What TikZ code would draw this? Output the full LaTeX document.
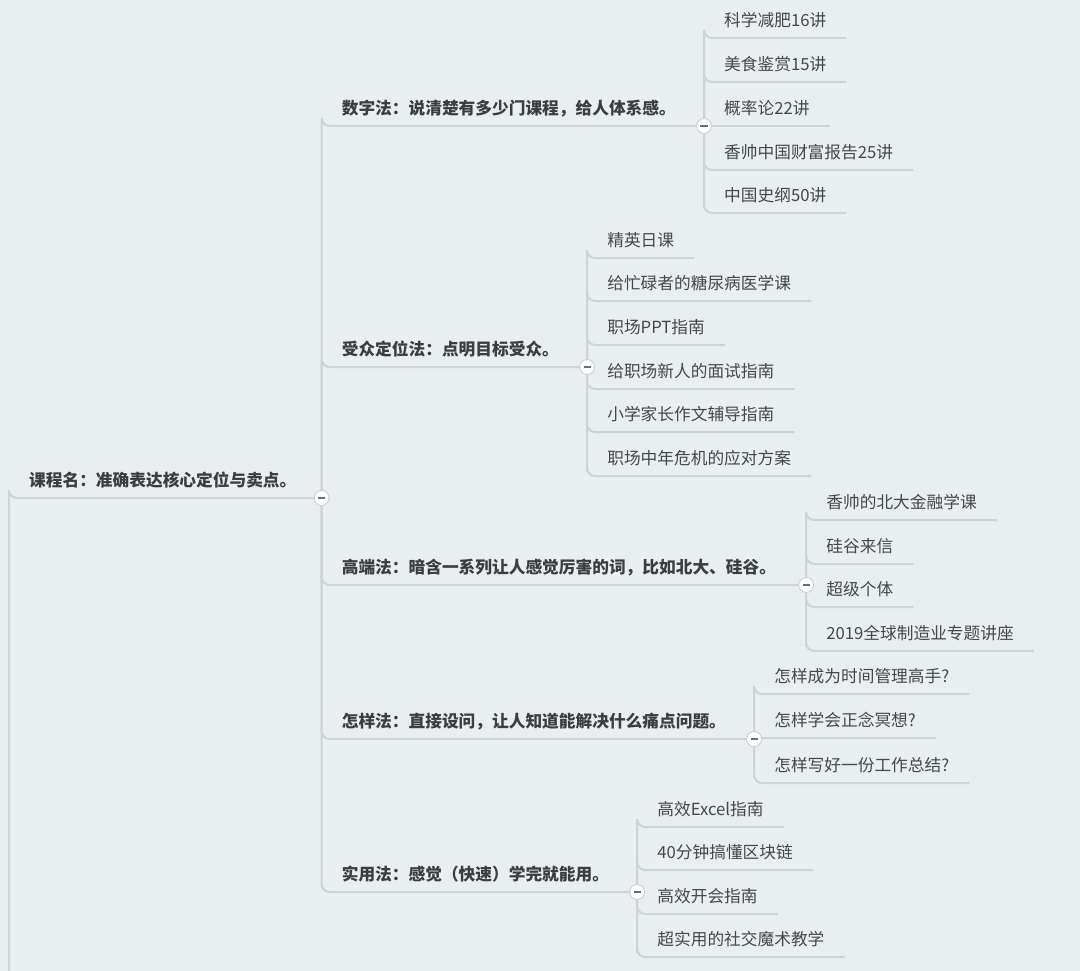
\documentclass[tikz,border=0pt]{standalone}
\usepackage{fontspec}
\newfontfamily\cjk{Noto Sans CJK SC}
\usepackage{xcolor}
\usepackage{tikz}
\usetikzlibrary{calc}

\definecolor{bgcol}{HTML}{E9EEF1}
\definecolor{linecol}{HTML}{CED3D7}
\definecolor{txtcol}{HTML}{45484B}
\definecolor{boldcol}{HTML}{3B3E41}

\tikzset{
    leaf/.style={anchor=south west, inner xsep=20pt, inner ysep=7pt, text height=13pt, text depth=4pt,
        font=\cjk\fontsize{16.7}{20}\selectfont, text=txtcol},
    main/.style={leaf, font=\cjk\bfseries\fontsize{16.7}{20}\selectfont, text=boldcol},
    branch/.style={draw=linecol, line width=2pt, rounded corners=8pt},
    fold/.style={circle, fill=white, draw=linecol, line width=1pt, minimum size=15pt, inner sep=0pt,
        path picture={\draw[line width=1.8pt, txtcol!80] ([xshift=-3.6pt]path picture bounding box.center) -- ([xshift=3.6pt]path picture bounding box.center);}}
}

\begin{document}
\begin{tikzpicture}[x=1pt, y=-1pt]
        %LATAR
        \fill[bgcol] (0,0) rectangle (1080,971);
        \useasboundingbox (0,0) rectangle (1080,971);

        %AKAR
        \coordinate (base) at (9,990);
        \node[main] (root) at (9,498) {课程名：准确表达核心定位与卖点。};
        \coordinate (d0) at ([xshift=5pt]root.south east);
        \draw[branch] (base) |- (root.south west) -- (d0);

        %CABANG UTAMA
        \node[main] (n1) at (d0 |- 0,126) {数字法：说清楚有多少门课程，给人体系感。};
        \node[main] (n2) at (d0 |- 0,367) {受众定位法：点明目标受众。};
        \node[main] (n3) at (d0 |- 0,585) {高端法：暗含一系列让人感觉厉害的词，比如北大、硅谷。};
        \node[main] (n4) at (d0 |- 0,739) {怎样法：直接设问，让人知道能解决什么痛点问题。};
        \node[main] (n5) at (d0 |- 0,892) {实用法：感觉（快速）学完就能用。};
        \coordinate (d1) at ([xshift=8pt]n1.south east);
        \coordinate (d2) at ([xshift=8pt]n2.south east);
        \coordinate (d3) at ([xshift=10pt]n3.south east);
        \coordinate (d4) at ([xshift=8pt]n4.south east);
        \coordinate (d5) at ([xshift=8pt]n5.south east);
        \draw[branch] (d0) |- (n1.south west) -- (d1);
        \draw[branch] (d0) |- (n2.south west) -- (d2);
        \draw[branch] (d0) |- (n3.south west) -- (d3);
        \draw[branch] (d0) |- (n4.south west) -- (d4);
        \draw[branch] (d0) |- (n5.south west) -- (d5);

        %DAUN 1
        \node[leaf] (k11) at (d1 |- 0,38) {科学减肥16讲};
        \node[leaf] (k12) at (d1 |- 0,82) {美食鉴赏15讲};
        \node[leaf] (k13) at (d1 |- 0,126) {概率论22讲};
        \node[leaf] (k14) at (d1 |- 0,170) {香帅中国财富报告25讲};
        \node[leaf] (k15) at (d1 |- 0,213) {中国史纲50讲};
        \draw[branch] (d1) |- (k11.south west) -- (k11.south east);
        \draw[branch] (d1) |- (k12.south west) -- (k12.south east);
        \draw[branch] (d1) -- (k13.south east);
        \draw[branch] (d1) |- (k14.south west) -- (k14.south east);
        \draw[branch] (d1) |- (k15.south west) -- (k15.south east);

        %DAUN 2
        \node[leaf] (k21) at (d2 |- 0,258) {精英日课};
        \node[leaf] (k22) at (d2 |- 0,301) {给忙碌者的糖尿病医学课};
        \node[leaf] (k23) at (d2 |- 0,345) {职场PPT指南};
        \node[leaf] (k24) at (d2 |- 0,389) {给职场新人的面试指南};
        \node[leaf] (k25) at (d2 |- 0,432) {小学家长作文辅导指南};
        \node[leaf] (k26) at (d2 |- 0,476) {职场中年危机的应对方案};
        \draw[branch] (d2) |- (k21.south west) -- (k21.south east);
        \draw[branch] (d2) |- (k22.south west) -- (k22.south east);
        \draw[branch] (d2) |- (k23.south west) -- (k23.south east);
        \draw[branch] (d2) |- (k24.south west) -- (k24.south east);
        \draw[branch] (d2) |- (k25.south west) -- (k25.south east);
        \draw[branch] (d2) |- (k26.south west) -- (k26.south east);

        %DAUN 3
        \node[leaf] (k31) at (d3 |- 0,520) {香帅的北大金融学课};
        \node[leaf] (k32) at (d3 |- 0,564) {硅谷来信};
        \node[leaf] (k33) at (d3 |- 0,607) {超级个体};
        \node[leaf] (k34) at (d3 |- 0,651) {2019全球制造业专题讲座};
        \draw[branch] (d3) |- (k31.south west) -- (k31.south east);
        \draw[branch] (d3) |- (k32.south west) -- (k32.south east);
        \draw[branch] (d3) |- (k33.south west) -- (k33.south east);
        \draw[branch] (d3) |- (k34.south west) -- (k34.south east);

        %DAUN 4
        \node[leaf] (k41) at (d4 |- 0,694) {怎样成为时间管理高手?};
        \node[leaf] (k42) at (d4 |- 0,738) {怎样学会正念冥想?};
        \node[leaf] (k43) at (d4 |- 0,783) {怎样写好一份工作总结?};
        \draw[branch] (d4) |- (k41.south west) -- (k41.south east);
        \draw[branch] (d4) |- (k42.south west) -- (k42.south east);
        \draw[branch] (d4) |- (k43.south west) -- (k43.south east);

        %DAUN 5
        \node[leaf] (k51) at (d5 |- 0,827) {高效Excel指南};
        \node[leaf] (k52) at (d5 |- 0,870) {40分钟搞懂区块链};
        \node[leaf] (k53) at (d5 |- 0,914) {高效开会指南};
        \node[leaf] (k54) at (d5 |- 0,957) {超实用的社交魔术教学};
        \draw[branch] (d5) |- (k51.south west) -- (k51.south east);
        \draw[branch] (d5) |- (k52.south west) -- (k52.south east);
        \draw[branch] (d5) |- (k53.south west) -- (k53.south east);
        \draw[branch] (d5) |- (k54.south west) -- (k54.south east);

        %LINGKARAN
        \node[fold] (f0) at (d0) {};
        \node[fold] (f1) at (d1) {};
        \node[fold] (f2) at (d2) {};
        \node[fold] (f3) at (d3) {};
        \node[fold] (f4) at (d4) {};
        \node[fold] (f5) at (d5) {};
    \end{tikzpicture}
\end{document}
